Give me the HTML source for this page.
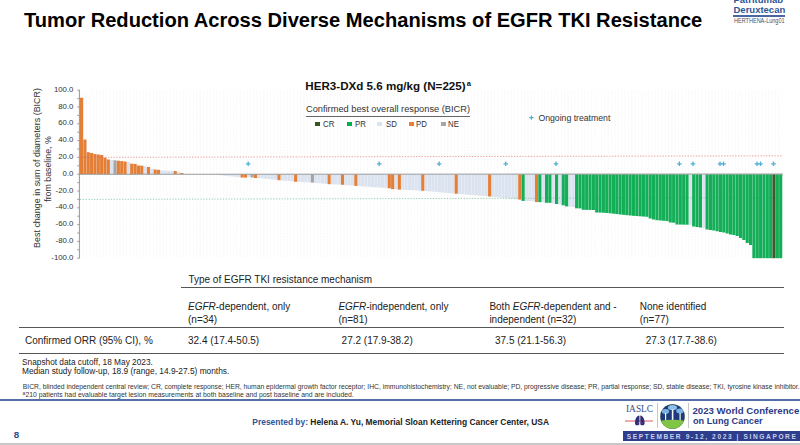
<!DOCTYPE html>
<html><head><meta charset="utf-8">
<style>
html,body{margin:0;padding:0;}
body{width:800px;height:445px;position:relative;overflow:hidden;background:#fff;font-family:"Liberation Sans",sans-serif;color:#222;}
.a{position:absolute;white-space:nowrap;line-height:1;}
svg{position:absolute;left:0;top:0;}
</style></head><body>
<div class="a" style="left:24px;top:10.3px;font-size:20.12px;font-weight:bold;color:#000;">Tumor Reduction Across Diverse Mechanisms of EGFR TKI Resistance</div>
<div class="a" style="left:733.5px;top:-5.5px;font-size:9.5px;font-weight:bold;color:#2F5597;">Patritumab</div>
<div class="a" style="left:733.5px;top:5px;font-size:9.5px;font-weight:bold;color:#2F5597;">Deruxtecan</div>
<div class="a" style="left:733.3px;top:15.3px;width:51.7px;height:1.3px;background:#4A65A0;"></div>
<div class="a" style="left:733.5px;top:17.5px;font-size:6.4px;color:#44546A;transform:scaleX(0.865);transform-origin:0 0;">HERTHENA-Lung01</div>

<svg width="800" height="445" viewBox="0 0 800 445" font-family="Liberation Sans, sans-serif">
<path d="M79.80 90V258 M83.14 90V258 M86.49 90V258 M89.83 90V258 M93.18 90V258 M96.52 90V258 M99.87 90V258 M103.22 90V258 M106.56 90V258 M109.91 90V258 M113.25 90V258 M116.59 90V258 M119.94 90V258 M123.28 90V258 M126.63 90V258 M129.98 90V258 M133.32 90V258 M136.67 90V258 M140.01 90V258 M143.36 90V258 M146.70 90V258 M150.05 90V258 M153.39 90V258 M156.74 90V258 M160.08 90V258 M163.43 90V258 M166.77 90V258 M170.12 90V258 M173.46 90V258 M176.81 90V258 M180.15 90V258 M183.50 90V258 M186.84 90V258 M190.19 90V258 M193.53 90V258 M196.88 90V258 M200.22 90V258 M203.56 90V258 M206.91 90V258 M210.26 90V258 M213.60 90V258 M216.95 90V258 M220.29 90V258 M223.64 90V258 M226.98 90V258 M230.33 90V258 M233.67 90V258 M237.02 90V258 M240.36 90V258 M243.71 90V258 M247.05 90V258 M250.40 90V258 M253.74 90V258 M257.08 90V258 M260.43 90V258 M263.78 90V258 M267.12 90V258 M270.47 90V258 M273.81 90V258 M277.16 90V258 M280.50 90V258 M283.85 90V258 M287.19 90V258 M290.54 90V258 M293.88 90V258 M297.23 90V258 M300.57 90V258 M303.92 90V258 M307.26 90V258 M310.61 90V258 M313.95 90V258 M317.30 90V258 M320.64 90V258 M323.99 90V258 M327.33 90V258 M330.68 90V258 M334.02 90V258 M337.37 90V258 M340.71 90V258 M344.06 90V258 M347.40 90V258 M350.75 90V258 M354.09 90V258 M357.44 90V258 M360.78 90V258 M364.12 90V258 M367.47 90V258 M370.82 90V258 M374.16 90V258 M377.51 90V258 M380.85 90V258 M384.20 90V258 M387.54 90V258 M390.89 90V258 M394.23 90V258 M397.58 90V258 M400.92 90V258 M404.27 90V258 M407.61 90V258 M410.96 90V258 M414.30 90V258 M417.65 90V258 M420.99 90V258 M424.34 90V258 M427.68 90V258 M431.03 90V258 M434.37 90V258 M437.72 90V258 M441.06 90V258 M444.41 90V258 M447.75 90V258 M451.10 90V258 M454.44 90V258 M457.79 90V258 M461.13 90V258 M464.48 90V258 M467.82 90V258 M471.17 90V258 M474.51 90V258 M477.86 90V258 M481.20 90V258 M484.55 90V258 M487.89 90V258 M491.24 90V258 M494.58 90V258 M497.93 90V258 M501.27 90V258 M504.62 90V258 M507.96 90V258 M511.31 90V258 M514.65 90V258 M518.00 90V258 M521.34 90V258 M524.68 90V258 M528.03 90V258 M531.38 90V258 M534.72 90V258 M538.07 90V258 M541.41 90V258 M544.75 90V258 M548.10 90V258 M551.44 90V258 M554.79 90V258 M558.13 90V258 M561.48 90V258 M564.83 90V258 M568.17 90V258 M571.51 90V258 M574.86 90V258 M578.20 90V258 M581.55 90V258 M584.89 90V258 M588.24 90V258 M591.59 90V258 M594.93 90V258 M598.27 90V258 M601.62 90V258 M604.97 90V258 M608.31 90V258 M611.65 90V258 M615.00 90V258 M618.35 90V258 M621.69 90V258 M625.03 90V258 M628.38 90V258 M631.73 90V258 M635.07 90V258 M638.41 90V258 M641.76 90V258 M645.11 90V258 M648.45 90V258 M651.79 90V258 M655.14 90V258 M658.49 90V258 M661.83 90V258 M665.17 90V258 M668.52 90V258 M671.87 90V258 M675.21 90V258 M678.55 90V258 M681.90 90V258 M685.25 90V258 M688.59 90V258 M691.93 90V258 M695.28 90V258 M698.62 90V258 M701.97 90V258 M705.31 90V258 M708.66 90V258 M712.00 90V258 M715.35 90V258 M718.69 90V258 M722.04 90V258 M725.38 90V258 M728.73 90V258 M732.08 90V258 M735.42 90V258 M738.76 90V258 M742.11 90V258 M745.46 90V258 M748.80 90V258 M752.14 90V258 M755.49 90V258 M758.84 90V258 M762.18 90V258 M765.52 90V258 M768.87 90V258 M772.22 90V258 M775.56 90V258 M778.90 90V258 M782.25 90V258" stroke="#F3F3F3" stroke-width="0.5" stroke-dasharray="2.5 0.6" fill="none"/>
<rect x="110.11" y="160.00" width="3.15" height="14.20" fill="#DCE3F0"/>
<rect x="126.83" y="161.80" width="3.15" height="12.40" fill="#DCE3F0"/>
<rect x="143.56" y="166.20" width="3.15" height="8.00" fill="#DCE3F0"/>
<rect x="150.25" y="168.60" width="3.15" height="5.60" fill="#DCE3F0"/>
<rect x="160.28" y="170.30" width="3.15" height="3.90" fill="#DCE3F0"/>
<rect x="163.62" y="170.50" width="3.15" height="3.70" fill="#DCE3F0"/>
<rect x="166.97" y="170.70" width="3.15" height="3.50" fill="#DCE3F0"/>
<rect x="170.31" y="170.90" width="3.15" height="3.30" fill="#DCE3F0"/>
<rect x="177.00" y="172.00" width="3.15" height="2.20" fill="#DCE3F0"/>








<rect x="210.46" y="174.20" width="3.15" height="0.20" fill="#DCE3F0"/>
<rect x="213.80" y="174.20" width="3.15" height="0.50" fill="#DCE3F0"/>
<rect x="217.15" y="174.20" width="3.15" height="0.80" fill="#DCE3F0"/>
<rect x="220.49" y="174.20" width="3.15" height="1.20" fill="#DCE3F0"/>
<rect x="223.84" y="174.20" width="3.15" height="1.60" fill="#DCE3F0"/>
<rect x="227.18" y="174.20" width="3.15" height="2.00" fill="#DCE3F0"/>
<rect x="230.53" y="174.20" width="3.15" height="2.33" fill="#DCE3F0"/>
<rect x="233.87" y="174.20" width="3.15" height="2.67" fill="#DCE3F0"/>
<rect x="237.22" y="174.20" width="3.15" height="3.00" fill="#DCE3F0"/>
<rect x="247.25" y="174.20" width="3.15" height="3.10" fill="#DCE3F0"/>
<rect x="257.28" y="174.20" width="3.15" height="4.00" fill="#DCE3F0"/>
<rect x="260.63" y="174.20" width="3.15" height="4.32" fill="#DCE3F0"/>
<rect x="263.98" y="174.20" width="3.15" height="4.64" fill="#DCE3F0"/>
<rect x="267.32" y="174.20" width="3.15" height="4.96" fill="#DCE3F0"/>
<rect x="270.67" y="174.20" width="3.15" height="5.28" fill="#DCE3F0"/>
<rect x="274.01" y="174.20" width="3.15" height="5.60" fill="#DCE3F0"/>
<rect x="280.70" y="174.20" width="3.15" height="6.28" fill="#DCE3F0"/>
<rect x="284.05" y="174.20" width="3.15" height="6.55" fill="#DCE3F0"/>
<rect x="287.39" y="174.20" width="3.15" height="6.83" fill="#DCE3F0"/>
<rect x="290.74" y="174.20" width="3.15" height="7.10" fill="#DCE3F0"/>
<rect x="297.43" y="174.20" width="3.15" height="7.73" fill="#DCE3F0"/>
<rect x="300.77" y="174.20" width="3.15" height="7.85" fill="#DCE3F0"/>
<rect x="304.12" y="174.20" width="3.15" height="7.98" fill="#DCE3F0"/>
<rect x="307.46" y="174.20" width="3.15" height="8.10" fill="#DCE3F0"/>
<rect x="314.15" y="174.20" width="3.15" height="8.70" fill="#DCE3F0"/>
<rect x="317.50" y="174.20" width="3.15" height="9.00" fill="#DCE3F0"/>
<rect x="320.84" y="174.20" width="3.15" height="9.30" fill="#DCE3F0"/>
<rect x="324.19" y="174.20" width="3.15" height="9.60" fill="#DCE3F0"/>
<rect x="330.88" y="174.20" width="3.15" height="10.13" fill="#DCE3F0"/>
<rect x="334.22" y="174.20" width="3.15" height="10.27" fill="#DCE3F0"/>
<rect x="337.56" y="174.20" width="3.15" height="10.40" fill="#DCE3F0"/>
<rect x="344.25" y="174.20" width="3.15" height="10.87" fill="#DCE3F0"/>
<rect x="347.60" y="174.20" width="3.15" height="11.13" fill="#DCE3F0"/>
<rect x="350.94" y="174.20" width="3.15" height="11.40" fill="#DCE3F0"/>
<rect x="357.63" y="174.20" width="3.15" height="11.93" fill="#DCE3F0"/>
<rect x="360.98" y="174.20" width="3.15" height="12.17" fill="#DCE3F0"/>
<rect x="364.32" y="174.20" width="3.15" height="12.40" fill="#DCE3F0"/>
<rect x="367.67" y="174.20" width="3.15" height="12.63" fill="#DCE3F0"/>
<rect x="371.02" y="174.20" width="3.15" height="12.87" fill="#DCE3F0"/>
<rect x="374.36" y="174.20" width="3.15" height="13.10" fill="#DCE3F0"/>
<rect x="377.71" y="174.20" width="3.15" height="13.33" fill="#DCE3F0"/>
<rect x="381.05" y="174.20" width="3.15" height="13.57" fill="#DCE3F0"/>
<rect x="384.40" y="174.20" width="3.15" height="13.80" fill="#DCE3F0"/>
<rect x="394.43" y="174.20" width="3.15" height="15.10" fill="#DCE3F0"/>
<rect x="401.12" y="174.20" width="3.15" height="15.57" fill="#DCE3F0"/>
<rect x="404.47" y="174.20" width="3.15" height="15.73" fill="#DCE3F0"/>
<rect x="407.81" y="174.20" width="3.15" height="15.90" fill="#DCE3F0"/>
<rect x="411.16" y="174.20" width="3.15" height="16.07" fill="#DCE3F0"/>
<rect x="414.50" y="174.20" width="3.15" height="16.23" fill="#DCE3F0"/>
<rect x="417.85" y="174.20" width="3.15" height="16.40" fill="#DCE3F0"/>
<rect x="424.54" y="174.20" width="3.15" height="16.90" fill="#DCE3F0"/>
<rect x="427.88" y="174.20" width="3.15" height="17.20" fill="#DCE3F0"/>
<rect x="431.23" y="174.20" width="3.15" height="17.50" fill="#DCE3F0"/>
<rect x="434.57" y="174.20" width="3.15" height="17.80" fill="#DCE3F0"/>
<rect x="437.92" y="174.20" width="3.15" height="18.10" fill="#DCE3F0"/>
<rect x="441.26" y="174.20" width="3.15" height="18.40" fill="#DCE3F0"/>
<rect x="444.61" y="174.20" width="3.15" height="18.70" fill="#DCE3F0"/>
<rect x="447.95" y="174.20" width="3.15" height="19.00" fill="#DCE3F0"/>
<rect x="451.30" y="174.20" width="3.15" height="19.30" fill="#DCE3F0"/>
<rect x="457.99" y="174.20" width="3.15" height="19.79" fill="#DCE3F0"/>
<rect x="461.33" y="174.20" width="3.15" height="20.08" fill="#DCE3F0"/>
<rect x="464.68" y="174.20" width="3.15" height="20.37" fill="#DCE3F0"/>
<rect x="468.02" y="174.20" width="3.15" height="20.66" fill="#DCE3F0"/>
<rect x="471.37" y="174.20" width="3.15" height="20.94" fill="#DCE3F0"/>
<rect x="474.71" y="174.20" width="3.15" height="21.23" fill="#DCE3F0"/>
<rect x="478.06" y="174.20" width="3.15" height="21.52" fill="#DCE3F0"/>
<rect x="481.40" y="174.20" width="3.15" height="21.81" fill="#DCE3F0"/>
<rect x="484.75" y="174.20" width="3.15" height="22.10" fill="#DCE3F0"/>
<rect x="491.44" y="174.20" width="3.15" height="22.65" fill="#DCE3F0"/>
<rect x="494.78" y="174.20" width="3.15" height="23.00" fill="#DCE3F0"/>
<rect x="498.12" y="174.20" width="3.15" height="23.35" fill="#DCE3F0"/>
<rect x="501.47" y="174.20" width="3.15" height="23.70" fill="#DCE3F0"/>
<rect x="504.81" y="174.20" width="3.15" height="24.05" fill="#DCE3F0"/>
<rect x="508.16" y="174.20" width="3.15" height="24.40" fill="#DCE3F0"/>
<rect x="511.51" y="174.20" width="3.15" height="24.75" fill="#DCE3F0"/>
<rect x="514.85" y="174.20" width="3.15" height="25.10" fill="#DCE3F0"/>
<rect x="524.88" y="174.20" width="3.15" height="26.80" fill="#DCE3F0"/>
<rect x="528.23" y="174.20" width="3.15" height="26.90" fill="#DCE3F0"/>
<rect x="531.58" y="174.20" width="3.15" height="27.00" fill="#DCE3F0"/>
<rect x="541.61" y="174.20" width="3.15" height="28.10" fill="#DCE3F0"/>
<rect x="551.64" y="174.20" width="3.15" height="29.30" fill="#DCE3F0"/>
<rect x="558.34" y="174.20" width="3.15" height="30.30" fill="#DCE3F0"/>
<rect x="568.37" y="174.20" width="3.15" height="32.60" fill="#DCE3F0"/>
<rect x="571.72" y="174.20" width="3.15" height="32.80" fill="#DCE3F0"/>
<rect x="688.79" y="174.20" width="3.15" height="50.80" fill="#DCE3F0"/>
<rect x="702.17" y="174.20" width="3.15" height="53.80" fill="#DCE3F0"/>
<line x1="80" y1="199.4" x2="783" y2="197.6" stroke="#6CBF94" stroke-width="0.7" stroke-dasharray="1.3 1.5"/>
<rect x="80.00" y="97.70" width="3.15" height="76.50" fill="#E47F38"/>
<rect x="83.34" y="139.50" width="3.15" height="34.70" fill="#E47F38"/>
<rect x="86.69" y="152.20" width="3.15" height="22.00" fill="#E47F38"/>
<rect x="90.03" y="153.00" width="3.15" height="21.20" fill="#E47F38"/>
<rect x="93.38" y="154.00" width="3.15" height="20.20" fill="#E47F38"/>
<rect x="96.72" y="154.50" width="3.15" height="19.70" fill="#E47F38"/>
<rect x="100.07" y="155.00" width="3.15" height="19.20" fill="#E47F38"/>
<rect x="103.42" y="157.70" width="3.15" height="16.50" fill="#E47F38"/>
<rect x="106.76" y="159.50" width="3.15" height="14.70" fill="#E47F38"/>
<rect x="113.45" y="160.30" width="3.15" height="13.90" fill="#A5A5A5"/>
<rect x="116.80" y="160.70" width="3.15" height="13.50" fill="#E47F38"/>
<rect x="120.14" y="161.10" width="3.15" height="13.10" fill="#E47F38"/>
<rect x="123.48" y="161.50" width="3.15" height="12.70" fill="#E47F38"/>
<rect x="130.18" y="163.70" width="3.15" height="10.50" fill="#E47F38"/>
<rect x="133.52" y="163.90" width="3.15" height="10.30" fill="#E47F38"/>
<rect x="136.87" y="165.50" width="3.15" height="8.70" fill="#E47F38"/>
<rect x="140.21" y="165.70" width="3.15" height="8.50" fill="#E47F38"/>
<rect x="146.90" y="167.00" width="3.15" height="7.20" fill="#E47F38"/>
<rect x="153.59" y="169.50" width="3.15" height="4.70" fill="#E47F38"/>
<rect x="156.94" y="169.80" width="3.15" height="4.40" fill="#E47F38"/>
<rect x="173.66" y="171.00" width="3.15" height="3.20" fill="#E47F38"/>
<rect x="180.35" y="173.00" width="3.15" height="1.20" fill="#E47F38"/>
<rect x="240.56" y="174.20" width="3.15" height="3.30" fill="#E47F38"/>
<rect x="243.91" y="174.20" width="3.15" height="3.40" fill="#E47F38"/>
<rect x="250.59" y="174.20" width="3.15" height="3.30" fill="#A5A5A5"/>
<rect x="253.94" y="174.20" width="3.15" height="3.80" fill="#E47F38"/>
<rect x="277.36" y="174.20" width="3.15" height="6.00" fill="#E47F38"/>
<rect x="294.08" y="174.20" width="3.15" height="7.60" fill="#E47F38"/>
<rect x="310.81" y="174.20" width="3.15" height="8.40" fill="#A5A5A5"/>
<rect x="327.53" y="174.20" width="3.15" height="10.00" fill="#E47F38"/>
<rect x="340.91" y="174.20" width="3.15" height="10.60" fill="#E47F38"/>
<rect x="354.29" y="174.20" width="3.15" height="11.70" fill="#E47F38"/>
<rect x="387.74" y="174.20" width="3.15" height="14.10" fill="#E47F38"/>
<rect x="391.09" y="174.20" width="3.15" height="14.90" fill="#E47F38"/>
<rect x="397.78" y="174.20" width="3.15" height="15.40" fill="#E47F38"/>
<rect x="421.19" y="174.20" width="3.15" height="16.60" fill="#E47F38"/>
<rect x="454.64" y="174.20" width="3.15" height="19.50" fill="#E47F38"/>
<rect x="488.09" y="174.20" width="3.15" height="22.30" fill="#E47F38"/>
<rect x="518.20" y="174.20" width="3.15" height="25.40" fill="#E47F38"/>
<rect x="521.54" y="174.20" width="3.15" height="26.70" fill="#14AE58"/>
<rect x="534.92" y="174.20" width="3.15" height="27.90" fill="#E47F38"/>
<rect x="538.27" y="174.20" width="3.15" height="27.90" fill="#14AE58"/>
<rect x="544.96" y="174.20" width="3.15" height="28.60" fill="#14AE58"/>
<rect x="548.30" y="174.20" width="3.15" height="28.60" fill="#14AE58"/>
<rect x="554.99" y="174.20" width="3.15" height="29.80" fill="#14AE58"/>
<rect x="561.68" y="174.20" width="3.15" height="31.10" fill="#14AE58"/>
<rect x="565.03" y="174.20" width="3.15" height="32.20" fill="#14AE58"/>
<rect x="575.06" y="174.20" width="3.15" height="34.10" fill="#14AE58"/>
<rect x="578.40" y="174.20" width="3.15" height="34.20" fill="#14AE58"/>
<rect x="581.75" y="174.20" width="3.15" height="35.60" fill="#14AE58"/>
<rect x="585.10" y="174.20" width="3.15" height="35.67" fill="#14AE58"/>
<rect x="588.44" y="174.20" width="3.15" height="35.73" fill="#14AE58"/>
<rect x="591.79" y="174.20" width="3.15" height="35.80" fill="#14AE58"/>
<rect x="595.13" y="174.20" width="3.15" height="38.30" fill="#14AE58"/>
<rect x="598.48" y="174.20" width="3.15" height="38.40" fill="#14AE58"/>
<rect x="601.82" y="174.20" width="3.15" height="38.50" fill="#14AE58"/>
<rect x="605.17" y="174.20" width="3.15" height="38.80" fill="#14AE58"/>
<rect x="608.51" y="174.20" width="3.15" height="39.13" fill="#14AE58"/>
<rect x="611.86" y="174.20" width="3.15" height="39.47" fill="#14AE58"/>
<rect x="615.20" y="174.20" width="3.15" height="39.80" fill="#14AE58"/>
<rect x="618.55" y="174.20" width="3.15" height="40.30" fill="#14AE58"/>
<rect x="621.89" y="174.20" width="3.15" height="40.63" fill="#14AE58"/>
<rect x="625.24" y="174.20" width="3.15" height="40.97" fill="#14AE58"/>
<rect x="628.58" y="174.20" width="3.15" height="41.30" fill="#14AE58"/>
<rect x="631.93" y="174.20" width="3.15" height="41.60" fill="#14AE58"/>
<rect x="635.27" y="174.20" width="3.15" height="41.85" fill="#14AE58"/>
<rect x="638.62" y="174.20" width="3.15" height="42.10" fill="#14AE58"/>
<rect x="641.96" y="174.20" width="3.15" height="42.35" fill="#14AE58"/>
<rect x="645.31" y="174.20" width="3.15" height="42.60" fill="#14AE58"/>
<rect x="648.65" y="174.20" width="3.15" height="44.30" fill="#14AE58"/>
<rect x="652.00" y="174.20" width="3.15" height="45.30" fill="#14AE58"/>
<rect x="655.34" y="174.20" width="3.15" height="46.00" fill="#14AE58"/>
<rect x="658.69" y="174.20" width="3.15" height="46.27" fill="#14AE58"/>
<rect x="662.03" y="174.20" width="3.15" height="46.53" fill="#14AE58"/>
<rect x="665.38" y="174.20" width="3.15" height="46.80" fill="#14AE58"/>
<rect x="668.72" y="174.20" width="3.15" height="48.30" fill="#14AE58"/>
<rect x="672.07" y="174.20" width="3.15" height="48.50" fill="#14AE58"/>
<rect x="675.41" y="174.20" width="3.15" height="50.30" fill="#14AE58"/>
<rect x="678.75" y="174.20" width="3.15" height="50.37" fill="#14AE58"/>
<rect x="682.10" y="174.20" width="3.15" height="50.43" fill="#14AE58"/>
<rect x="685.45" y="174.20" width="3.15" height="50.50" fill="#14AE58"/>
<rect x="692.13" y="174.20" width="3.15" height="52.30" fill="#14AE58"/>
<rect x="695.48" y="174.20" width="3.15" height="52.80" fill="#14AE58"/>
<rect x="698.83" y="174.20" width="3.15" height="53.30" fill="#14AE58"/>
<rect x="705.51" y="174.20" width="3.15" height="55.30" fill="#14AE58"/>
<rect x="708.86" y="174.20" width="3.15" height="55.80" fill="#14AE58"/>
<rect x="712.21" y="174.20" width="3.15" height="56.30" fill="#14AE58"/>
<rect x="715.55" y="174.20" width="3.15" height="57.05" fill="#14AE58"/>
<rect x="718.89" y="174.20" width="3.15" height="57.80" fill="#14AE58"/>
<rect x="722.24" y="174.20" width="3.15" height="58.30" fill="#14AE58"/>
<rect x="725.59" y="174.20" width="3.15" height="59.30" fill="#14AE58"/>
<rect x="728.93" y="174.20" width="3.15" height="60.30" fill="#14AE58"/>
<rect x="732.28" y="174.20" width="3.15" height="60.80" fill="#14AE58"/>
<rect x="735.62" y="174.20" width="3.15" height="61.80" fill="#14AE58"/>
<rect x="738.97" y="174.20" width="3.15" height="63.80" fill="#14AE58"/>
<rect x="742.31" y="174.20" width="3.15" height="65.80" fill="#14AE58"/>
<rect x="745.66" y="174.20" width="3.15" height="68.80" fill="#14AE58"/>
<rect x="749.00" y="174.20" width="3.15" height="70.80" fill="#14AE58"/>
<rect x="752.35" y="174.20" width="3.15" height="84.00" fill="#14AE58"/>
<rect x="755.69" y="174.20" width="3.15" height="84.00" fill="#14AE58"/>
<rect x="759.04" y="174.20" width="3.15" height="84.00" fill="#14AE58"/>
<rect x="762.38" y="174.20" width="3.15" height="84.00" fill="#14AE58"/>
<rect x="765.73" y="174.20" width="3.15" height="84.00" fill="#14AE58"/>
<rect x="769.07" y="174.20" width="3.15" height="84.00" fill="#14AE58"/>
<rect x="772.42" y="174.20" width="3.15" height="84.00" fill="#3A5A2A"/>
<rect x="775.76" y="174.20" width="3.15" height="84.00" fill="#14AE58"/>
<rect x="779.11" y="174.20" width="3.15" height="84.00" fill="#14AE58"/>
<line x1="80" y1="157.4" x2="783" y2="155.8" stroke="#E06060" stroke-width="0.8" stroke-dasharray="1.3 1.5" opacity="0.75"/>
<line x1="79.3" y1="174.3" x2="783" y2="174.0" stroke="#9A9A9A" stroke-width="1.0"/>
<line x1="79.4" y1="89.8" x2="79.4" y2="258.4" stroke="#8C8C8C" stroke-width="0.9"/>
<line x1="77.2" y1="90.20" x2="79.4" y2="90.20" stroke="#8C8C8C" stroke-width="0.8"/>
<text x="73.4" y="91.70" text-anchor="end" font-size="7.8" fill="#333">100.0</text>
<line x1="77.2" y1="98.60" x2="79.4" y2="98.60" stroke="#8C8C8C" stroke-width="0.8"/>
<line x1="77.2" y1="107.00" x2="79.4" y2="107.00" stroke="#8C8C8C" stroke-width="0.8"/>
<text x="73.4" y="108.50" text-anchor="end" font-size="7.8" fill="#333">80.0</text>
<line x1="77.2" y1="115.40" x2="79.4" y2="115.40" stroke="#8C8C8C" stroke-width="0.8"/>
<line x1="77.2" y1="123.80" x2="79.4" y2="123.80" stroke="#8C8C8C" stroke-width="0.8"/>
<text x="73.4" y="125.30" text-anchor="end" font-size="7.8" fill="#333">60.0</text>
<line x1="77.2" y1="132.20" x2="79.4" y2="132.20" stroke="#8C8C8C" stroke-width="0.8"/>
<line x1="77.2" y1="140.60" x2="79.4" y2="140.60" stroke="#8C8C8C" stroke-width="0.8"/>
<text x="73.4" y="142.10" text-anchor="end" font-size="7.8" fill="#333">40.0</text>
<line x1="77.2" y1="149.00" x2="79.4" y2="149.00" stroke="#8C8C8C" stroke-width="0.8"/>
<line x1="77.2" y1="157.40" x2="79.4" y2="157.40" stroke="#8C8C8C" stroke-width="0.8"/>
<text x="73.4" y="158.90" text-anchor="end" font-size="7.8" fill="#333">20.0</text>
<line x1="77.2" y1="165.80" x2="79.4" y2="165.80" stroke="#8C8C8C" stroke-width="0.8"/>
<line x1="77.2" y1="174.20" x2="79.4" y2="174.20" stroke="#8C8C8C" stroke-width="0.8"/>
<text x="73.4" y="175.70" text-anchor="end" font-size="7.8" fill="#333">0.0</text>
<line x1="77.2" y1="182.60" x2="79.4" y2="182.60" stroke="#8C8C8C" stroke-width="0.8"/>
<line x1="77.2" y1="191.00" x2="79.4" y2="191.00" stroke="#8C8C8C" stroke-width="0.8"/>
<text x="73.4" y="192.50" text-anchor="end" font-size="7.8" fill="#333">-20.0</text>
<line x1="77.2" y1="199.40" x2="79.4" y2="199.40" stroke="#8C8C8C" stroke-width="0.8"/>
<line x1="77.2" y1="207.80" x2="79.4" y2="207.80" stroke="#8C8C8C" stroke-width="0.8"/>
<text x="73.4" y="209.30" text-anchor="end" font-size="7.8" fill="#333">-40.0</text>
<line x1="77.2" y1="216.20" x2="79.4" y2="216.20" stroke="#8C8C8C" stroke-width="0.8"/>
<line x1="77.2" y1="224.60" x2="79.4" y2="224.60" stroke="#8C8C8C" stroke-width="0.8"/>
<text x="73.4" y="226.10" text-anchor="end" font-size="7.8" fill="#333">-60.0</text>
<line x1="77.2" y1="233.00" x2="79.4" y2="233.00" stroke="#8C8C8C" stroke-width="0.8"/>
<line x1="77.2" y1="241.40" x2="79.4" y2="241.40" stroke="#8C8C8C" stroke-width="0.8"/>
<text x="73.4" y="242.90" text-anchor="end" font-size="7.8" fill="#333">-80.0</text>
<line x1="77.2" y1="249.80" x2="79.4" y2="249.80" stroke="#8C8C8C" stroke-width="0.8"/>
<line x1="77.2" y1="258.20" x2="79.4" y2="258.20" stroke="#8C8C8C" stroke-width="0.8"/>
<text x="73.4" y="259.70" text-anchor="end" font-size="7.8" fill="#333">-100.0</text>
<path d="M245.9 163.8H250.5M248.2 161.5V166.1" stroke="#52B0D2" stroke-width="1.3"/>
<path d="M376.9 163.8H381.5M379.2 161.5V166.1" stroke="#52B0D2" stroke-width="1.3"/>
<path d="M436.9 163.8H441.5M439.2 161.5V166.1" stroke="#52B0D2" stroke-width="1.3"/>
<path d="M503.4 163.8H508.0M505.7 161.5V166.1" stroke="#52B0D2" stroke-width="1.3"/>
<path d="M553.7 163.8H558.3M556.0 161.5V166.1" stroke="#52B0D2" stroke-width="1.3"/>
<path d="M677.1 163.8H681.7M679.4 161.5V166.1" stroke="#52B0D2" stroke-width="1.3"/>
<path d="M690.7 163.8H695.3M693.0 161.5V166.1" stroke="#52B0D2" stroke-width="1.3"/>
<path d="M717.7 163.8H722.3M720.0 161.5V166.1" stroke="#52B0D2" stroke-width="1.3"/>
<path d="M721.2 163.8H725.8M723.5 161.5V166.1" stroke="#52B0D2" stroke-width="1.3"/>
<path d="M754.7 163.8H759.3M757.0 161.5V166.1" stroke="#52B0D2" stroke-width="1.3"/>
<path d="M758.2 163.8H762.8M760.5 161.5V166.1" stroke="#52B0D2" stroke-width="1.3"/>
<path d="M771.2 163.8H775.8M773.5 161.5V166.1" stroke="#52B0D2" stroke-width="1.3"/>
</svg>

<div class="a" style="left:305.3px;top:79.9px;font-size:11.62px;font-weight:bold;color:#111;">HER3-DXd 5.6 mg/kg (N=225)<sup style="font-size:7.5px;vertical-align:3.5px;margin-left:1px">a</sup></div>
<div class="a" style="left:306px;top:105px;font-size:9.25px;color:#333;">Confirmed best overall response (BICR)</div>
<div class="a" style="left:306px;top:115.5px;width:164px;height:1px;background:#666;"></div>
<div class="a" style="left:315px;top:121.8px;width:5px;height:4.5px;background:#375623;"></div>
<div class="a" style="left:323.3px;top:120.2px;font-size:9px;color:#333;transform:scaleX(0.87);transform-origin:0 0;">CR</div>
<div class="a" style="left:347px;top:121.8px;width:5px;height:4.5px;background:#00B050;"></div>
<div class="a" style="left:354.6px;top:120.2px;font-size:9px;color:#333;transform:scaleX(0.87);transform-origin:0 0;">PR</div>
<div class="a" style="left:377.4px;top:121.8px;width:5px;height:4.5px;background:#DAE3F3;"></div>
<div class="a" style="left:385.5px;top:120.2px;font-size:9px;color:#333;transform:scaleX(0.87);transform-origin:0 0;">SD</div>
<div class="a" style="left:408.8px;top:121.8px;width:5px;height:4.5px;background:#ED7D31;"></div>
<div class="a" style="left:416.4px;top:120.2px;font-size:9px;color:#333;transform:scaleX(0.87);transform-origin:0 0;">PD</div>
<div class="a" style="left:441.3px;top:121.8px;width:5px;height:4.5px;background:#A5A5A5;"></div>
<div class="a" style="left:448px;top:120.2px;font-size:9px;color:#333;transform:scaleX(0.87);transform-origin:0 0;">NE</div>

<svg width="800" height="445" style="pointer-events:none"><path d="M529.3 117.6H533.5M531.4 115.5V119.7" stroke="#4BACC6" stroke-width="1.1"/></svg>
<div class="a" style="left:538.4px;top:113.8px;font-size:8.7px;color:#333;">Ongoing treatment</div>

<div class="a" style="left:36.8px;top:167.5px;width:0;height:0;">
 <div class="a" style="left:0;top:0;transform:translate(-50%,-50%) rotate(-90deg);font-size:8.95px;color:#333;">Best change in sum of diameters (BICR)</div>
</div>
<div class="a" style="left:48.3px;top:168.9px;width:0;height:0;">
 <div class="a" style="left:0;top:0;transform:translate(-50%,-50%) rotate(-90deg);font-size:8.8px;color:#333;">from baseline, %</div>
</div>

<!-- table -->
<div class="a" style="left:188.4px;top:275px;font-size:10px;color:#222;">Type of EGFR TKI resistance mechanism</div>
<div class="a" style="left:181px;top:287px;width:603px;height:1px;background:#555;"></div>
<div class="a" style="left:188px;top:301.5px;font-size:10px;color:#222;"><i>EGFR</i>-dependent, only</div>
<div class="a" style="left:188px;top:314.6px;font-size:10px;color:#222;">(n=34)</div>
<div class="a" style="left:338.4px;top:301.5px;font-size:10px;color:#222;"><i>EGFR</i>-independent, only</div>
<div class="a" style="left:338.4px;top:314.6px;font-size:10px;color:#222;">(n=81)</div>
<div class="a" style="left:489.4px;top:301.5px;font-size:10px;color:#222;">Both <i>EGFR</i>-dependent and -</div>
<div class="a" style="left:489.4px;top:314.6px;font-size:10px;color:#222;">independent (n=32)</div>
<div class="a" style="left:639.7px;top:301.5px;font-size:10px;color:#222;">None identified</div>
<div class="a" style="left:639.7px;top:314.6px;font-size:10px;color:#222;">(n=77)</div>
<div class="a" style="left:19px;top:327px;width:765px;height:1px;background:#555;"></div>
<div class="a" style="left:25px;top:336.4px;font-size:10px;color:#222;">Confirmed ORR (95% CI), %</div>
<div class="a" style="left:188px;top:336.4px;font-size:10px;color:#222;">32.4 (17.4-50.5)</div>
<div class="a" style="left:341.6px;top:336.4px;font-size:10px;color:#222;">27.2 (17.9-38.2)</div>
<div class="a" style="left:495px;top:336.4px;font-size:10px;color:#222;">37.5 (21.1-56.3)</div>
<div class="a" style="left:645.8px;top:336.4px;font-size:10px;color:#222;">27.3 (17.7-38.6)</div>
<div class="a" style="left:19px;top:353px;width:765px;height:1px;background:#555;"></div>

<div class="a" style="left:22px;top:357.5px;font-size:8.3px;color:#222;">Snapshot data cutoff, 18 May 2023.</div>
<div class="a" style="left:22px;top:367px;font-size:8.35px;color:#222;">Median study follow-up, 18.9 (range, 14.9-27.5) months.</div>
<div class="a" style="left:22.8px;top:384px;font-size:6.77px;color:#333;">BICR, blinded independent central review; CR, complete response; HER, human epidermal growth factor receptor; IHC, immunohistochemistry; NE, not evaluable; PD, progressive disease; PR, partial response; SD, stable disease; TKI, tyrosine kinase inhibitor.</div>
<div class="a" style="left:22.6px;top:391.2px;font-size:6.85px;color:#333;"><sup style="font-size:5px;vertical-align:2px;">a</sup>210 patients had evaluable target lesion measurements at both baseline and post baseline and are included.</div>
<div class="a" style="left:0;top:399px;width:800px;height:1.5px;background:#5570A8;"></div>

<div class="a" style="left:13.8px;top:429.6px;font-size:9.8px;font-weight:bold;color:#2F4A8F;">8</div>
<div class="a" style="left:252.3px;top:418px;font-size:8.44px;font-weight:bold;"><span style="color:#2F5597">Presented by:</span> <span style="color:#222">Helena A. Yu, Memorial Sloan Kettering Cancer Center, USA</span></div>

<!-- conference logo -->
<div class="a" style="left:626px;top:404.3px;font-family:'Liberation Serif',serif;font-size:10.2px;color:#3B4A8A;transform:scaleX(0.92);transform-origin:0 0;">IASLC</div>
<svg width="800" height="445">
 <line x1="625" y1="421" x2="653" y2="421" stroke="#E05563" stroke-width="1"/>
 <path d="M639.3 415.5 C636 416 635 420 635 423 C635 425.5 637 426 639.3 424.5 Z M640.3 415.5 C643.6 416 644.6 420 644.6 423 C644.6 425.5 642.6 426 640.3 424.5 Z" fill="#2B2F7A"/>
 <path d="M639.8 416 V421 L637 424 M639.8 421 L642.6 424" stroke="#C04070" stroke-width="0.5" fill="none"/>
 <line x1="657.5" y1="403" x2="657.5" y2="428" stroke="#B8B8C0" stroke-width="0.8"/>
 <line x1="688.5" y1="403" x2="688.5" y2="428" stroke="#B8B8C0" stroke-width="0.8"/>
 <defs><clipPath id="cc"><circle cx="672.5" cy="416.5" r="12.2"/></clipPath></defs>
 <circle cx="672.5" cy="416.5" r="12.5" fill="#C9E27A"/>
 <g clip-path="url(#cc)">
  <rect x="659" y="403" width="27" height="27" fill="#1E3A7B"/>
  <ellipse cx="665.5" cy="411.5" rx="3.6" ry="2.4" fill="#7DB3E3"/>
  <ellipse cx="672.5" cy="407.5" rx="4.5" ry="2.6" fill="#8CC0EA"/>
  <ellipse cx="680" cy="411" rx="3.8" ry="2.4" fill="#7DB3E3"/>
  <path d="M665 413 h1.2 v8 h-1.2z M671.8 409.5 h1.6 v11 h-1.6z M679.5 413 h1.2 v8 h-1.2z" fill="#F2F6FA"/>
  <path d="M659 421 Q672.5 418.5 686 421 V430 H659z" fill="#80C545"/>
 </g>
</svg>
<div class="a" style="left:692.5px;top:406.2px;font-size:9.65px;font-weight:bold;color:#2E3A87;">2023 World Conference</div>
<div class="a" style="left:692.5px;top:416px;font-size:9.65px;transform:scaleX(0.95);transform-origin:0 0;font-weight:bold;color:#2E3A87;">on Lung Cancer</div>
<div class="a" style="left:623px;top:431.2px;width:177px;height:9.5px;background:#2E3D8C;"></div>
<div class="a" style="left:626.8px;top:433.6px;font-size:6.6px;font-weight:bold;color:#C8D0EC;letter-spacing:1.6px;">SEPTEMBER 9-12, 2023 | SINGAPORE</div>
<div class="a" style="left:0;top:442.8px;width:800px;height:3px;background:#C8C8C8;"></div>
</body></html>
